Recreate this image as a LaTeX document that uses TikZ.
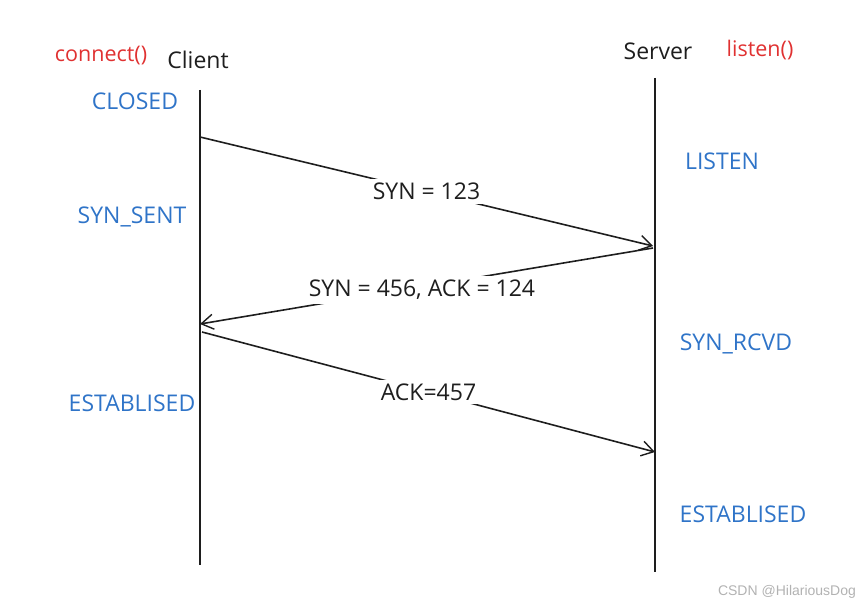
\documentclass[tikz,border=0pt]{standalone}
\usepackage{fontspec}
\setmainfont{Open Sans}
\usetikzlibrary{arrows.meta}
\definecolor{ink}{HTML}{1E1E1E}
\definecolor{stblue}{HTML}{2F74C8}
\definecolor{fnred}{HTML}{E03131}
\begin{document}
\begin{tikzpicture}[x=1pt,y=-1pt,
  life/.style={draw=ink,line width=2pt},
  msg/.style={draw=ink,line width=1.6pt,-{Straight Barb[length=12pt,width=15pt,line width=1.4pt]}},
  lbl/.style={fill=white,text=ink,font=\fontsize{23}{27}\selectfont,inner xsep=2pt,inner ysep=4pt},
  state/.style={text=stblue,font=\fontsize{23}{27}\selectfont,inner sep=0pt},
  fn/.style={text=fnred,font=\fontsize{21.5}{25}\selectfont,inner sep=0pt},
  role/.style={text=ink,font=\fontsize{23}{27}\selectfont,inner sep=0pt},
  wm/.style={text=black!30,font=\fontspec{Liberation Sans}\fontsize{14}{16}\selectfont,inner sep=0pt}]
\useasboundingbox (0,0) rectangle (868,607);
% lifelines
\coordinate (ctop) at (200,90);
\coordinate (cbot) at (200,565);
\coordinate (stop) at (655,78);
\coordinate (sbot) at (655,572);
\draw[life] (ctop) -- (cbot);
\draw[life] (stop) -- (sbot);
% headers
\node[fn] (connect) at (101,56) {connect()};
\node[role] (client) at (198,60) {Client};
\node[role] (server) at (658,51) {Server};
\node[fn] (listen) at (760,50) {listen()};
% states
\node[state] (closed) at (135,101) {CLOSED};
\node[state] (synsent) at (132,217) {SYN\_SENT};
\node[state] (estc) at (132,403) {ESTABLISED};
\node[state] (listenst) at (722,161) {LISTEN};
\node[state] (synrcvd) at (736,344) {SYN\_RCVD};
\node[state] (ests) at (743,514) {ESTABLISED};
% message endpoints
\coordinate (m1a) at (200,137);
\coordinate (m1b) at (653,246);
\coordinate (m2a) at (653,248);
\coordinate (m2b) at (200,324);
\coordinate (m3a) at (202,332);
\coordinate (m3b) at (655,452);
% messages
\draw[msg] (m1a) -- node[lbl] (l1) {SYN = 123} (m1b);
\draw[msg] (m2a) -- node[lbl,pos=0.51,yshift=-3pt] (l2) {SYN = 456, ACK = 124} (m2b);
\draw[msg] (m3a) -- node[lbl] (l3) {ACK=457} (m3b);
% watermark
\node[wm] (mark) at (787,592) {CSDN @HilariousDog};
\end{tikzpicture}
\end{document}
